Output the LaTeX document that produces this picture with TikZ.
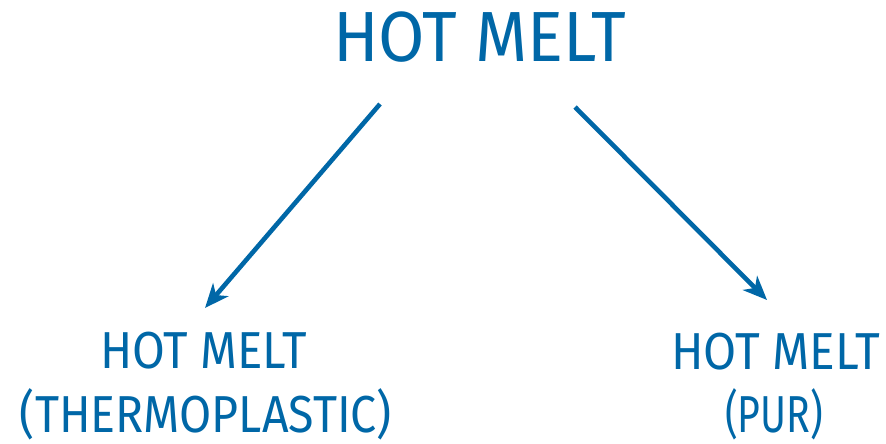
\documentclass[tikz,border=0pt]{standalone}
\usepackage{fontspec}
\usepackage{graphicx}
\usetikzlibrary{arrows.meta}
\setmainfont{Fira Sans}
\definecolor{hmblue}{HTML}{0067A7}
\newsavebox{\fitbox}
\newcommand{\fitw}[2]{\sbox{\fitbox}{#2}\pgfmathsetmacro{\fitxs}{#1/\wd\fitbox}\scalebox{\fitxs}[1]{\usebox{\fitbox}}}
\tikzset{
  lbl/.style={text=hmblue, inner sep=0pt, anchor=base},
  big/.style={font=\fontsize{71}{71}\selectfont},
  small/.style={font=\fontsize{52}{52}\selectfont},
  arr/.style={draw=hmblue, line width=4.6pt, -{Stealth[length=24pt, width=20pt, inset=7pt]}}
}
\begin{document}
\begin{tikzpicture}[x=1pt,y=-1pt]
\useasboundingbox (0,0) rectangle (886,444);
\node[lbl,big] (top) at (479.5,62) {\fitw{293pt}{HOT MELT}};
\node[lbl,small] (l1) at (203.5,368) {\fitw{207pt}{HOT MELT}};
\node[lbl,small] (l2) at (206,432) {\fitw{372pt}{(THERMOPLASTIC)}};
\node[lbl,small] (r1) at (775.5,369) {\fitw{209pt}{HOT MELT}};
\node[lbl,small] (r2) at (774,432) {\fitw{98pt}{(PUR)}};
\coordinate (ls) at (380,104);
\coordinate (le) at (205,308);
\coordinate (rs) at (575,107);
\coordinate (re) at (767,300);
\draw[arr] (ls) -- (le);
\draw[arr] (rs) -- (re);
\end{tikzpicture}
\end{document}
